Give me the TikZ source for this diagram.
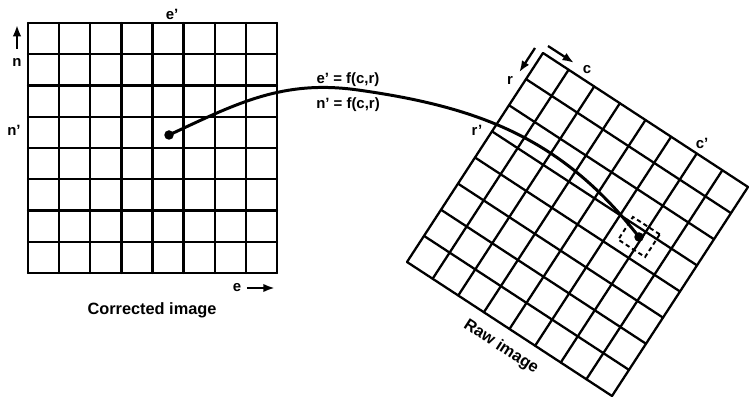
\documentclass[tikz,border=0pt]{standalone}
\usepackage{fontspec}
\setmainfont{Liberation Sans}
\usetikzlibrary{arrows.meta, calc}

\begin{document}
\begin{tikzpicture}[
    x=0.02cm, y=0.02cm,
    >={Latex[width=1.7mm, length=2.3mm]},
    mesh/.style={line width=1.3pt, line cap=round},
    link/.style={line width=1.7pt},
    axis/.style={->, line width=1.3pt},
    lbl/.style={font=\fontsize{8.5}{10}\selectfont\bfseries, inner sep=1pt},
    title/.style={font=\fontsize{9.3}{11}\selectfont\bfseries, inner sep=1pt},
    dot/.style={circle, fill, inner sep=0pt, minimum size=1.9mm},
]
\useasboundingbox (0,0) rectangle (751,-401);
% corrected image
\coordinate (ctl) at (28,-23);
\coordinate (ctr) at (277,-23);
\coordinate (cbl) at (28,-273);
\coordinate (cbr) at (277,-273);
\foreach \i in {0,...,8} {
  \draw[mesh] ($(ctl)!\i/8!(ctr)$) -- ($(cbl)!\i/8!(cbr)$);
  \draw[mesh] ($(ctl)!\i/8!(cbl)$) -- ($(ctr)!\i/8!(cbr)$);
}
\node[lbl] (eprime) at (172,-14) {e'};
\node[lbl] (n) at (17,-62) {n};
\node[lbl] (nprime) at (14,-130) {n'};
\node[lbl] (e) at (237,-288) {e};
\draw[axis] ([yshift=4pt]n.north) -- ++(0,24);
\draw[axis] ([xshift=2pt]e.east) -- ++(28,0);
\node[title] (corr) at (152,-310) {Corrected image};
% raw image, turned
\coordinate (rt) at (543,-53);
\coordinate (rr) at (748,-187);
\coordinate (rl) at (407,-262);
\coordinate (rb) at (612,-396);
\foreach \i in {0,...,8} {
  \draw[mesh] ($(rt)!\i/8!(rr)$) -- ($(rl)!\i/8!(rb)$);
  \draw[mesh] ($(rt)!\i/8!(rl)$) -- ($(rr)!\i/8!(rb)$);
}
\coordinate (c0) at (548,-46);
\coordinate (r0) at (535,-48);
\draw[axis] (c0) -- ++(-33:31);
\draw[axis] (r0) -- ++(237:29);
\node[lbl] (c) at (587,-70) {c};
\node[lbl] (r) at (510,-80) {r};
\node[lbl] (rprime) at (477,-130) {r'};
\node[lbl] (cprime) at (702,-143) {c'};
\node[title, rotate=-33] (raw) at (501,-347) {Raw image};
% the mapping
\node[dot] (cdot) at (169,-135) {};
\node[dot] (rdot) at (639,-237) {};
\node[draw, line width=1.1pt, dash pattern=on 2.5pt off 1.8pt, rotate=-33,
      minimum width=6.4mm, minimum height=5.4mm] (pix) at (rdot) {};
\coordinate (peak) at (358,-90);
\draw[link] (cdot.center) to[out=25, in=172] (peak)
                          to[out=-8, in=128] (rdot.center);
\node[lbl] (fe) at (348,-80) {e' = f(c,r)};
\node[lbl] (fn) at (348,-105) {n' = f(c,r)};
\end{tikzpicture}
\end{document}
